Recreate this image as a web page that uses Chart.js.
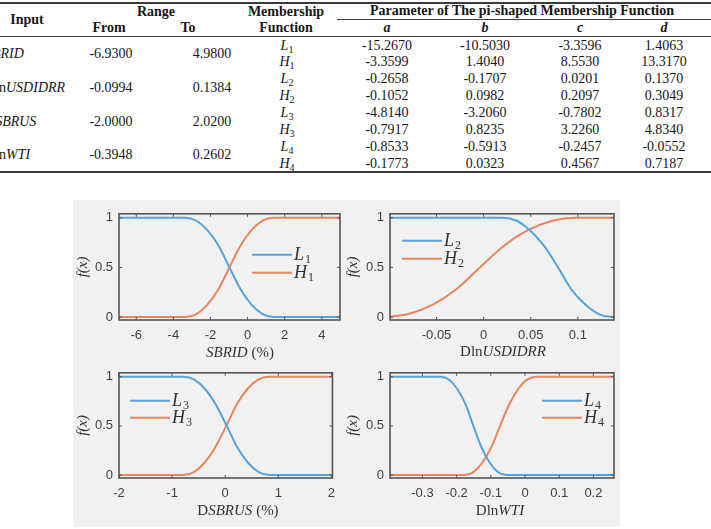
<!DOCTYPE html>
<html>
<head>
<meta charset="utf-8">
<script src="https://cdn.jsdelivr.net/npm/chart.js@4.4.1/dist/chart.umd.min.js"></script>
<style>
  body { margin: 0; width: 711px; height: 529px; background: #fff; position: relative; overflow: hidden; }
  .t { position: absolute; white-space: nowrap; font: 14px 'Liberation Serif', serif; line-height: 16px; color: #161616; }
  .b { font-weight: bold; }
  .ax { font-size: 15px; color: #333; }
  .rule { position: absolute; background: #3a3a3a; }
  sub { font-size: 10px; line-height: 0; vertical-align: -3px; font-style: normal; }
  #panel { position: absolute; left: 73px; top: 200px; width: 547px; height: 327px; background: #f1f1f1; }
  canvas { position: absolute; }
</style>
</head>
<body>
<div id="panel"></div>
<canvas id="c1" width="270" height="148" style="left:73px;top:200px"></canvas>
<canvas id="c2" width="277" height="148" style="left:343px;top:200px"></canvas>
<canvas id="c3" width="270" height="147" style="left:73px;top:359px"></canvas>
<canvas id="c4" width="277" height="147" style="left:343px;top:359px"></canvas>
<script>
// table
const inputPrefix = ['', 'Dln', 'D', 'Dln'];
const inputVar = ['SBRID', 'USDIDRR', 'SBRUS', 'WTI'];
const rangeFrom = [-6.93, -0.0994, -2.0, -0.3948];
const rangeTo = [4.98, 0.1384, 2.02, 0.2602];
const mfNames = ['L1', 'H1', 'L2', 'H2', 'L3', 'H3', 'L4', 'H4'];
const paramA = [-15.267, -3.3599, -0.2658, -0.1052, -4.814, -0.7917, -0.8533, -0.1773];
const paramB = [-10.503, 1.404, -0.1707, 0.0982, -3.206, 0.8235, -0.5913, 0.0323];
const paramC = [-3.3596, 8.553, 0.0201, 0.2097, -0.7802, 3.226, -0.2457, 0.4567];
const paramD = [1.4063, 13.317, 0.137, 0.3049, 0.8317, 4.834, -0.0552, 0.7187];

// curves
const sbridLowX = [-6.93, -3.36, -2.76, -2.17, -1.57, -0.98, -0.38, 0.21, 0.81, 1.41, 4.98];
const sbridLowY = [1, 1, 0.97, 0.875, 0.72, 0.5, 0.28, 0.125, 0.03, 0, 0];
const sbridHighX = [-6.93, -3.36, -2.76, -2.17, -1.57, -0.98, -0.38, 0.21, 0.81, 1.40, 4.98];
const sbridHighY = [0, 0, 0.03, 0.125, 0.28, 0.5, 0.72, 0.875, 0.97, 1, 1];

const usdLowX = [-0.0994, 0.020, 0.035, 0.049, 0.064, 0.079, 0.093, 0.108, 0.122, 0.137, 0.1384];
const usdLowY = [1, 1, 0.97, 0.875, 0.72, 0.5, 0.28, 0.125, 0.03, 0, 0];
const usdHighX = [-0.0994, -0.080, -0.054, -0.029, -0.004, 0.022, 0.047, 0.073, 0.098, 0.1384];
const usdHighY = [0.002, 0.03, 0.125, 0.28, 0.5, 0.72, 0.875, 0.97, 1, 1];

const dsbLowX = [-2, -0.78, -0.58, -0.38, -0.18, 0.03, 0.23, 0.43, 0.63, 0.83, 2.02];
const dsbLowY = [1, 1, 0.97, 0.875, 0.72, 0.5, 0.28, 0.125, 0.03, 0, 0];
const dsbHighX = [-2, -0.79, -0.59, -0.39, -0.19, 0.02, 0.22, 0.42, 0.62, 0.82, 2.02];
const dsbHighY = [0, 0, 0.03, 0.125, 0.28, 0.5, 0.72, 0.875, 0.97, 1, 1];

const wtiLowX = [-0.3948, -0.246, -0.222, -0.198, -0.174, -0.151, -0.127, -0.103, -0.079, -0.055, 0.2602];
const wtiLowY = [1, 1, 0.97, 0.875, 0.72, 0.5, 0.28, 0.125, 0.03, 0, 0];
const wtiHighX = [-0.3948, -0.177, -0.151, -0.125, -0.099, -0.073, -0.046, -0.020, 0.006, 0.032, 0.2602];
const wtiHighY = [0, 0, 0.03, 0.125, 0.28, 0.5, 0.72, 0.875, 0.97, 1, 1];

const sbridTicks = [-6, -4, -2, 0, 2, 4];
const usdTicks = [-0.05, 0, 0.05, 0.1];
const dsbTicks = [-2, -1, 0, 1, 2];
const wtiTicks = [-0.3, -0.2, -0.1, 0, 0.1, 0.2];
const fTicks = [0, 0.5, 1];

const BLUE = '#56a3dc';
const ORANGE = '#e9865d';

function put(html, x, y, cls, align) {
  const el = document.createElement('div');
  el.className = 't ' + (cls || '');
  el.innerHTML = html;
  el.style.left = x + 'px';
  el.style.top = y + 'px';
  el.style.transform = align === 'left' ? 'translate(0,-50%)' : 'translate(-50%,-50%)';
  document.body.appendChild(el);
}

function rule(x, y, w, h) {
  const el = document.createElement('div');
  el.className = 'rule';
  Object.assign(el.style, { left: x + 'px', top: y + 'px', width: w + 'px', height: h + 'px' });
  document.body.appendChild(el);
}

function mfHtml(name) {
  return '<i>' + name[0] + '</i><sub>' + name.slice(1) + '</sub>';
}

// --- table ---
rule(0, 2, 711, 1.5);
rule(337, 19, 374, 1);
rule(0, 36, 711, 1);
rule(0, 171, 711, 1.5);

put('Input', 27, 20, 'b');
put('Range', 156, 12, 'b');
put('From', 109, 28, 'b');
put('To', 188, 28, 'b');
put('Membership', 286, 12, 'b');
put('Function', 286, 28, 'b');
put('Parameter of The pi-shaped Membership Function', 522, 11, 'b');
const colX = [387, 485, 580, 664];
['a', 'b', 'c', 'd'].forEach((s, i) => put('<i>' + s + '</i>', colX[i], 28, 'b'));

const rowY = i => 45.5 + i * 16.9;
mfNames.forEach((n, i) => {
  const y = rowY(i);
  put(mfHtml(n), 287, y);
  [paramA, paramB, paramC, paramD].forEach((arr, j) => put(arr[i].toFixed(4), colX[j], y));
});
inputVar.forEach((v, k) => {
  const y = (rowY(2 * k) + rowY(2 * k + 1)) / 2;
  // the input column is cut by the left edge of the page
  put(inputPrefix[k] + '<i>' + v + '</i>', -15, y, '', 'left');
  put(rangeFrom[k].toFixed(4), 111, y);
  put(rangeTo[k].toFixed(4), 212, y);
});

// --- charts ---
const frame = {
  id: 'frame',
  afterDatasetsDraw(chart) {
    const { ctx, chartArea: a, scales: { x, y } } = chart;
    ctx.save();
    ctx.strokeStyle = '#555';
    ctx.lineWidth = 1;
    ctx.beginPath();
    x.ticks.forEach(t => {
      const px = x.getPixelForValue(t.value);
      ctx.moveTo(px, a.bottom); ctx.lineTo(px, a.bottom - 3);
      ctx.moveTo(px, a.top); ctx.lineTo(px, a.top + 3);
    });
    y.ticks.forEach(t => {
      const py = y.getPixelForValue(t.value);
      ctx.moveTo(a.left, py); ctx.lineTo(a.left + 3, py);
      ctx.moveTo(a.right, py); ctx.lineTo(a.right - 3, py);
    });
    ctx.stroke();
    ctx.lineWidth = 1.6;
    ctx.strokeRect(a.left, a.top, a.width, a.height);
    ctx.restore();
  }
};

const mfLegend = {
  id: 'mfLegend',
  afterDatasetsDraw(chart, args, opts) {
    const { ctx, chartArea: a } = chart;
    chart.data.datasets.forEach((ds, i) => {
      const x = a.left + opts.x;
      const y = a.top + opts.y + i * opts.gap;
      ctx.save();
      ctx.strokeStyle = ds.borderColor;
      ctx.lineWidth = 2;
      ctx.beginPath();
      ctx.moveTo(x, y);
      ctx.lineTo(x + 40, y);
      ctx.stroke();
      ctx.fillStyle = '#333';
      ctx.textBaseline = 'middle';
      ctx.font = 'italic 18px "Liberation Serif"';
      ctx.fillText(ds.label[0], x + 42, y);
      const w = ctx.measureText(ds.label[0]).width;
      ctx.font = '12px "Liberation Serif"';
      ctx.fillText(ds.label.slice(1), x + 43 + w, y + 5);
      ctx.restore();
    });
  }
};

function series(label, xs, ys, color) {
  return {
    label,
    data: xs.map((x, i) => ({ x, y: ys[i] })),
    borderColor: color,
    borderWidth: 2,
    pointRadius: 0,
    cubicInterpolationMode: 'monotone',
    fill: false,
  };
}

function mfChart(id, k, xTicks, low, high, yWidth, padRight, legend) {
  new Chart(document.getElementById(id), {
    type: 'line',
    data: {
      datasets: [
        series('L' + (k + 1), low[0], low[1], BLUE),
        series('H' + (k + 1), high[0], high[1], ORANGE),
      ],
    },
    options: {
      responsive: false,
      animation: false,
      layout: { padding: { top: 10, right: padRight, left: 0, bottom: 0 } },
      plugins: { legend: { display: false }, tooltip: { enabled: false }, mfLegend: legend },
      scales: {
        x: {
          type: 'linear',
          min: rangeFrom[k],
          max: rangeTo[k],
          grid: { display: false, drawTicks: false },
          border: { display: false },
          afterBuildTicks: s => { s.ticks = xTicks.map(v => ({ value: v })); },
          afterFit: s => { s.height = 28; },
          ticks: {
            autoSkip: false, maxRotation: 0, padding: 8,
            color: '#404040',
            font: { family: "'Liberation Sans', Arial, sans-serif", size: 13 },
            callback: v => String(v),
          },
        },
        y: {
          min: -0.03,
          max: 1.04,
          grid: { display: false, drawTicks: false },
          border: { display: false },
          afterBuildTicks: s => { s.ticks = fTicks.map(v => ({ value: v })); },
          afterFit: s => { s.width = yWidth; },
          ticks: {
            padding: 6,
            color: '#404040',
            font: { family: "'Liberation Sans', Arial, sans-serif", size: 13 },
            callback: v => String(v),
          },
          title: {
            display: true,
            text: 'f(x)',
            color: '#333',
            padding: { top: 1, bottom: 0 },
            font: { family: "'Liberation Serif', serif", style: 'italic', size: 15 },
          },
        },
      },
    },
    plugins: [frame, mfLegend],
  });
}

mfChart('c1', 0, sbridTicks, [sbridLowX, sbridLowY], [sbridHighX, sbridHighY], 46, 3, { x: 133, y: 41, gap: 18 });
mfChart('c2', 1, usdTicks, [usdLowX, usdLowY], [usdHighX, usdHighY], 47, 6, { x: 12, y: 27, gap: 18 });
mfChart('c3', 2, dsbTicks, [dsbLowX, dsbLowY], [dsbHighX, dsbHighY], 46, 3, { x: 11, y: 28, gap: 17 });
mfChart('c4', 3, wtiTicks, [wtiLowX, wtiLowY], [wtiHighX, wtiHighY], 47, 6, { x: 152, y: 28, gap: 17 });

// x axis titles
put('<i>SBRID</i> (%)', 240, 352, 'ax');
put('Dln<i>USDIDRR</i>', 503, 351, 'ax');
put('D<i>SBRUS</i> (%)', 238, 510, 'ax');
put('Dln<i>WTI</i>', 500, 510, 'ax');
</script>
</body>
</html>
